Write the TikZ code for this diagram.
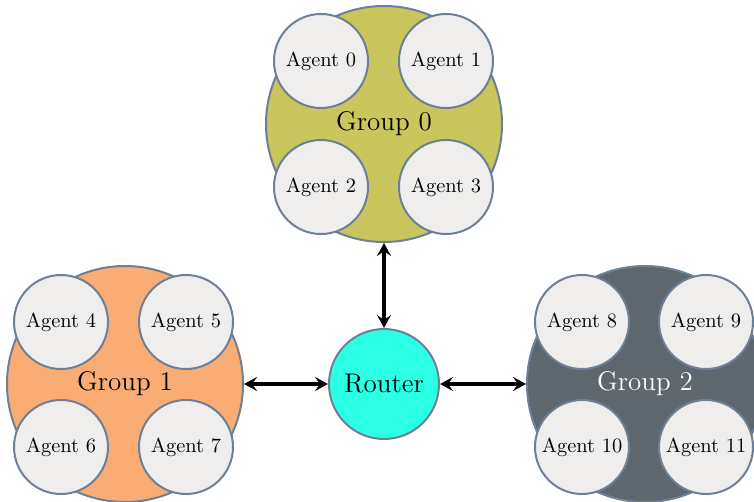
\documentclass[tikz,border=0pt]{standalone}
\usetikzlibrary{arrows.meta}
\definecolor{olivefill}{RGB}{201,198,94}
\definecolor{orangefill}{RGB}{249,172,116}
\definecolor{slatefill}{RGB}{94,102,110}
\definecolor{routerfill}{RGB}{43,255,228}
\definecolor{agentfill}{RGB}{239,238,237}
\definecolor{rim}{RGB}{110,128,150}
\tikzset{
  group/.style={circle, draw=rim, line width=1pt, minimum size=118pt, inner sep=0pt, font=\fontsize{13.5}{15}\selectfont},
  agent/.style={circle, draw=rim, fill=agentfill, line width=1pt, minimum size=47pt, inner sep=0pt, font=\fontsize{10.2}{12}\selectfont},
  router/.style={circle, draw=rim, fill=routerfill, line width=1pt, minimum size=55pt, inner sep=0pt, font=\fontsize{13.5}{15}\selectfont},
  link/.style={line width=2pt, {Stealth[length=6.5pt,width=7pt,inset=2.5pt]}-{Stealth[length=6.5pt,width=7pt,inset=2.5pt]}}
}
\begin{document}
\begin{tikzpicture}[x=0.5pt, y=-0.5pt]
\useasboundingbox (0,0) rectangle (754,502);
% groups
\node[group, fill=olivefill] (g0) at (384,124) {Group 0};
\node[group, fill=orangefill] (g1) at (125,384) {Group 1};
\node[group, fill=slatefill, text=white] (g2) at (645,384) {Group 2};
% agents of group 0
\node[agent] (a0) at (321,61) {Agent 0};
\node[agent] (a1) at (446,61) {Agent 1};
\node[agent] (a2) at (321,187) {Agent 2};
\node[agent] (a3) at (446,187) {Agent 3};
% agents of group 1
\node[agent] (a4) at (61,322) {Agent 4};
\node[agent] (a5) at (186,322) {Agent 5};
\node[agent] (a6) at (61,447) {Agent 6};
\node[agent] (a7) at (186,447) {Agent 7};
% agents of group 2
\node[agent] (a8) at (582,322) {Agent 8};
\node[agent] (a9) at (706,322) {Agent 9};
\node[agent] (a10) at (582,447) {Agent 10};
\node[agent] (a11) at (706,447) {Agent 11};
% router
\node[router] (r) at (384,384) {Router};
% links
\draw[link] (g0) -- (r);
\draw[link] (g1) -- (r);
\draw[link] (r) -- (g2);
\end{tikzpicture}
\end{document}
